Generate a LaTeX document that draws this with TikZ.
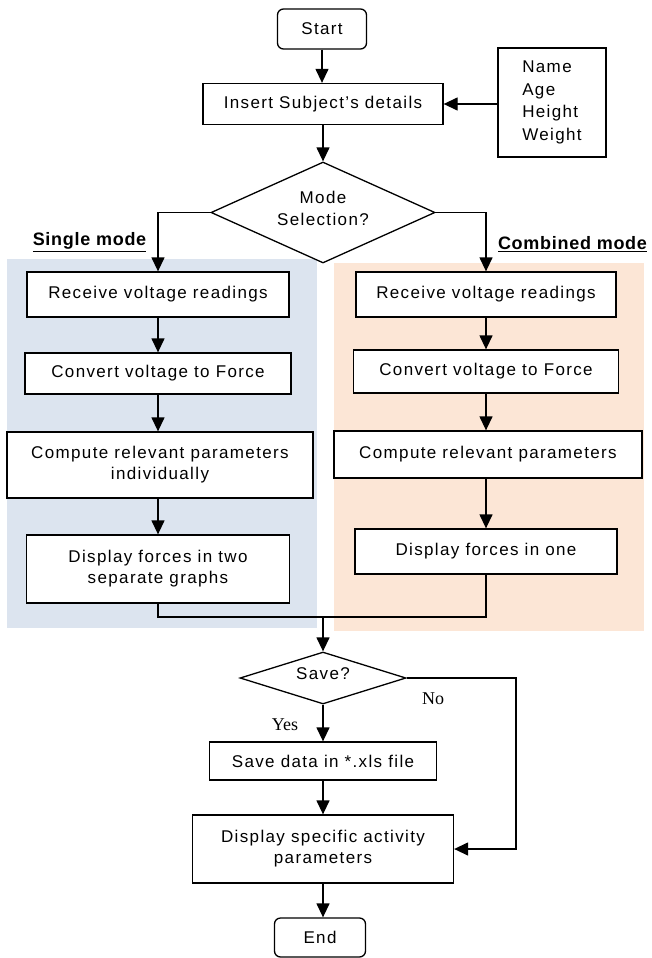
\documentclass[tikz,border=0pt]{standalone}
\usepackage{fontspec}
\setmainfont{Liberation Sans}[LetterSpace=8]
\newfontfamily\lblfont{Liberation Sans}[LetterSpace=4]
\newfontfamily\serifont{Liberation Serif}
\usetikzlibrary{arrows.meta,shapes.geometric}
\definecolor{bluebg}{HTML}{DCE4EF}
\definecolor{orangebg}{HTML}{FCE6D6}
\tikzset{
  box/.style={draw, line width=1.3pt, fill=white, align=center, inner sep=0pt,
    font=\fontsize{17}{21}\selectfont},
  term/.style={box, rounded corners=6pt},
  decision/.style={draw, line width=1.3pt, fill=white, diamond, aspect=2.2, align=center,
    inner sep=0pt, font=\fontsize{17}{21}\selectfont},
  link/.style={line width=1.3pt},
  arrow/.style={line width=1.3pt, -{Triangle[length=14pt,width=13pt]}},
  modelabel/.style={font=\lblfont\bfseries\fontsize{18}{22}\selectfont, inner sep=0pt},
  yn/.style={font=\serifont\fontsize{18}{22}\selectfont, inner sep=0pt}
}
\begin{document}
\begin{tikzpicture}[x=1pt,y=-1pt]
\useasboundingbox (0,0) rectangle (651,958);
% backgrounds
\fill[bluebg] (7,259) rectangle (317,628);
\fill[orangebg] (334,263) rectangle (644,631);
% main column
\node[term, minimum width=89pt, minimum height=40pt] (start) at (322,29) {Start};
\node[box, minimum width=240pt, minimum height=41pt] (insert) at (323,104) {Insert Subject's details};
\node[box, minimum width=108pt, minimum height=109pt, font=\fontsize{17}{22.7}\selectfont, align=left] (info) at (552,102.5) {Name\\Age\\Height\\Weight};
\node[decision, minimum width=224pt, minimum height=101pt] (mode) at (323,212.5) {};
\node[font=\fontsize{17}{22}\selectfont, align=center, inner sep=0pt] (modetext) at (323,208) {Mode\\Selection?};
% labels
\node[modelabel] (single) at (89.5,242) {\underline{Single mode}};
\node[modelabel] (combined) at (572.5,244) {\underline{Combined mode}};
% single mode column
\node[box, minimum width=262pt, minimum height=45pt] (sr) at (158,294.5) {Receive voltage readings};
\node[box, minimum width=266pt, minimum height=41pt] (sc) at (158,373.5) {Convert voltage to Force};
\node[box, minimum width=306pt, minimum height=66pt] (sp) at (160,465) {Compute relevant parameters\\individually};
\node[box, minimum width=263pt, minimum height=68pt] (sd) at (158,569) {Display forces in two\\separate graphs};
% combined mode column
\node[box, minimum width=260pt, minimum height=45pt] (cr) at (486,294.5) {Receive voltage readings};
\node[box, minimum width=265pt, minimum height=43pt] (cc) at (486,371.5) {Convert voltage to Force};
\node[box, minimum width=308pt, minimum height=47pt] (cp) at (488,454.5) {Compute relevant parameters};
\node[box, minimum width=262pt, minimum height=45pt] (cd) at (486,551.5) {Display forces in one};
% lower part
\coordinate (merge) at (323,617);
\node[decision, minimum width=166pt, minimum height=52pt] (save) at (323,678) {};
\node[font=\fontsize{17}{21}\selectfont, inner sep=0pt] (savetext) at (323,674) {Save?};
\node[box, minimum width=227pt, minimum height=38pt] (savedata) at (323,761) {Save data in *.xls file};
\node[box, minimum width=261pt, minimum height=68pt] (dsp) at (323,849) {Display specific activity\\parameters};
\node[term, minimum width=91pt, minimum height=39pt] (end) at (320,937.5) {End};
\node[yn] (yes) at (285,725) {Yes};
\node[yn] (no) at (433,699) {No};
\coordinate (nocorner) at (516,678);
% connectors
\draw[arrow] (start) -- (start |- insert.north);
\draw[arrow] (info.west |- insert) -- (insert.east);
\draw[arrow] (insert) -- (mode.north);
\draw[arrow] (mode.west) -| (sr.north);
\draw[arrow] (mode.east) -| (cr.north);
\draw[arrow] (sr) -- (sc.north);
\draw[arrow] (sc) -- (sc.south |- sp.north);
\draw[arrow] (sc.south |- sp.south) -- (sc.south |- sd.north);
\draw[arrow] (cr) -- (cc.north);
\draw[arrow] (cc) -- (cc.south |- cp.north);
\draw[arrow] (cc.south |- cp.south) -- (cc.south |- cd.north);
\draw[link] (sd.south) |- (merge);
\draw[link] (cd.south) |- (merge);
\draw[arrow] (merge) -- (save.north);
\draw[arrow] (save.south) -- (savedata.north);
\draw[arrow] (savedata) -- (dsp.north);
\draw[arrow] (save.east) -- (nocorner) |- (dsp.east);
\draw[arrow] (dsp.south) -- (dsp.south |- end.north);
\end{tikzpicture}
\end{document}
